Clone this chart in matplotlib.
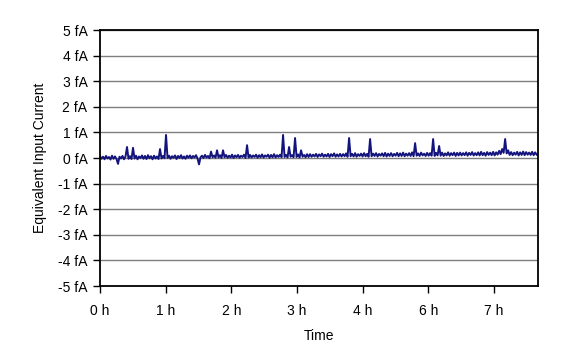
import numpy as np
import matplotlib
matplotlib.use("Agg")
import matplotlib.pyplot as plt
from matplotlib import font_manager

# ---- data ----
time_step = 0.02285  # spacing between samples, in tick units
current_fA = [
    0.07, -0.03, 0.05, -0.05, 0.08, -0.02, 0.04, -0.06, 0.09, -0.03, 0.06, -0.04, -0.23, 0.05, -0.02, 0.08, -0.05, 0.06, 0.43, -0.03,
    0.07, -0.04, 0.40, -0.02, 0.09, -0.05, 0.06, 0.00, 0.10, -0.03, 0.08, -0.04, 0.11, -0.01, 0.07, -0.05, 0.09, -0.02, 0.06, -0.04,
    0.35, -0.02, 0.08, -0.01, 0.90, 0.00, 0.09, -0.03, 0.07, 0.01, 0.10, -0.04, 0.08, 0.00, 0.11, -0.02, 0.06, -0.03, 0.09, 0.01,
    0.10, -0.01, 0.08, 0.02, 0.11, -0.02, -0.25, 0.03, 0.09, 0.00, 0.12, 0.02, 0.08, -0.01, 0.25, 0.03, 0.10, 0.01, 0.30, 0.02,
    0.11, 0.00, 0.30, 0.03, 0.12, 0.01, 0.09, 0.02, 0.13, 0.00, 0.10, 0.03, 0.12, 0.01, 0.09, 0.04, 0.13, 0.00, 0.50, 0.02,
    0.12, 0.02, 0.10, 0.04, 0.13, 0.01, 0.11, 0.03, 0.14, 0.02, 0.10, 0.05, 0.13, 0.01, 0.12, 0.03, 0.15, 0.02, 0.11, 0.04,
    0.13, 0.03, 0.90, 0.04, 0.12, 0.02, 0.43, 0.05, 0.11, 0.03, 0.78, 0.04, 0.14, 0.02, 0.30, 0.05, 0.12, 0.03, 0.15, 0.04,
    0.15, 0.05, 0.13, 0.06, 0.16, 0.04, 0.14, 0.07, 0.17, 0.05, 0.13, 0.06, 0.16, 0.04, 0.15, 0.07, 0.18, 0.05, 0.14, 0.06,
    0.16, 0.06, 0.15, 0.07, 0.18, 0.05, 0.78, 0.07, 0.16, 0.06, 0.19, 0.05, 0.15, 0.08, 0.17, 0.06, 0.19, 0.07, 0.16, 0.05,
    0.74, 0.07, 0.17, 0.08, 0.19, 0.06, 0.16, 0.09, 0.18, 0.07, 0.20, 0.06, 0.17, 0.08, 0.19, 0.07, 0.16, 0.09, 0.20, 0.07,
    0.18, 0.08, 0.21, 0.07, 0.17, 0.09, 0.19, 0.08, 0.22, 0.07, 0.58, 0.09, 0.18, 0.08, 0.21, 0.10, 0.17, 0.08, 0.20, 0.09,
    0.19, 0.09, 0.74, 0.08, 0.20, 0.10, 0.47, 0.09, 0.21, 0.08, 0.18, 0.10, 0.22, 0.09, 0.19, 0.11, 0.21, 0.08, 0.20, 0.10,
    0.21, 0.10, 0.19, 0.11, 0.22, 0.09, 0.20, 0.12, 0.23, 0.10, 0.19, 0.11, 0.22, 0.10, 0.24, 0.11, 0.20, 0.09, 0.23, 0.12,
    0.21, 0.11, 0.24, 0.10, 0.22, 0.13, 0.28, 0.15, 0.35, 0.20, 0.74, 0.18, 0.30, 0.12, 0.23, 0.11, 0.21, 0.13, 0.24, 0.10,
    0.22, 0.12, 0.25, 0.11, 0.23, 0.13, 0.21, 0.12, 0.24, 0.11, 0.22, 0.13,
]
x_tick_labels = ["0 h", "1 h", "2 h", "3 h", "4 h", "6 h", "7 h"]
y_ticks = [-5, -4, -3, -2, -1, 0, 1, 2, 3, 4, 5]
y_tick_labels = [f"{v} fA" for v in y_ticks]

# ---- font ----
names = {f.name for f in font_manager.fontManager.ttflist}
family = "Liberation Sans Narrow" if "Liberation Sans Narrow" in names else "Liberation Sans"
plt.rcParams["font.family"] = [family, "DejaVu Sans"]

fig = plt.figure(figsize=(5.67, 3.61), dpi=100)
ax = fig.add_axes([100/567, 1-286/361, (538-100)/567, (286-30)/361])

x = np.arange(len(current_fA)) * time_step
ax.plot(x, current_fA, color="#14147e", lw=1.4)

ax.set_xlim(0, 6.67)
ax.set_ylim(-5, 5)
ax.set_xticks(range(len(x_tick_labels)))
ax.set_xticklabels(x_tick_labels)
ax.set_yticks(y_ticks)
ax.set_yticklabels(y_tick_labels)
ax.yaxis.grid(True, color="#7f7f7f", lw=1.0)
ax.set_axisbelow(True)
for s in ax.spines.values():
    s.set_linewidth(1.3)
    s.set_color("black")
ax.tick_params(axis="both", direction="out", length=5, width=1.0, labelsize=10, colors="black")
ax.tick_params(axis="y", pad=4)
ax.tick_params(axis="x", pad=8)

ax.set_xlabel("Time", fontsize=10, labelpad=8)
ax.set_ylabel("Equivalent Input Current", fontsize=10, labelpad=8)

fig.savefig("out.png", dpi=100)
